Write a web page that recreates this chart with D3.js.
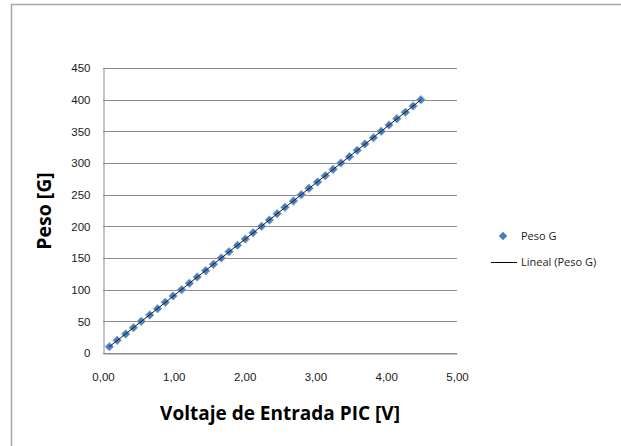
<!DOCTYPE html>
<html>
<head>
<meta charset="utf-8">
<script src="https://cdn.jsdelivr.net/npm/d3@7"></script>
<style>
  body { margin: 0; background: #fff; }
  svg { display: block; font-family: "Open Sans", "Liberation Sans", sans-serif; }
</style>
</head>
<body>
<svg id="chart" width="621" height="446"></svg>
<script>
// voltage (V) and weight (G)
var voltaje = [0.09, 0.20, 0.32, 0.43, 0.54, 0.66, 0.77, 0.88, 0.99, 1.11,
               1.22, 1.33, 1.45, 1.56, 1.67, 1.78, 1.90, 2.01, 2.12, 2.24,
               2.35, 2.46, 2.57, 2.69, 2.80, 2.91, 3.03, 3.14, 3.25, 3.36,
               3.48, 3.59, 3.70, 3.82, 3.93, 4.04, 4.15, 4.27, 4.38, 4.49];
var peso    = [10, 20, 30, 40, 50, 60, 70, 80, 90, 100,
               110, 120, 130, 140, 150, 160, 170, 180, 190, 200,
               210, 220, 230, 240, 250, 260, 270, 280, 290, 300,
               310, 320, 330, 340, 350, 360, 370, 380, 390, 400];
var xTicks = [0, 1, 2, 3, 4, 5];
var yTicks = [0, 50, 100, 150, 200, 250, 300, 350, 400, 450];
var legendLabels = ["Peso G", "Lineal (Peso G)"];

var svg = d3.select("#chart");

// chart frame
svg.append("rect")
  .attr("x", 11.5).attr("y", 4.5)
  .attr("width", 640).attr("height", 460)
  .style("fill", "none").style("stroke", "#a6a6a6").style("stroke-width", 1.5);

var pLeft = 103, pRight = 457, pTop = 68, pBottom = 353;
var x = d3.scaleLinear().domain([0, 5]).range([pLeft, pRight]);
var y = d3.scaleLinear().domain([0, 450]).range([pBottom, pTop]);

// horizontal gridlines
svg.append("g").selectAll("line").data(yTicks).enter().append("line")
  .attr("x1", pLeft).attr("x2", pRight)
  .attr("y1", d => Math.round(y(d)) + 0.5).attr("y2", d => Math.round(y(d)) + 0.5)
  .style("stroke", "#8c8c8c").style("stroke-width", 1);

// y axis
var yAxis = svg.append("g")
  .attr("transform", "translate(" + (pLeft + 0.5) + ",0)")
  .call(d3.axisLeft(y).tickValues(yTicks).tickSize(0).tickPadding(13));
yAxis.select(".domain").style("stroke", "#8c8c8c");
yAxis.selectAll("text").style("font-size", "11.5px").style("fill", "#1a1a1a");

// x axis
var xAxis = svg.append("g")
  .attr("transform", "translate(0," + (pBottom + 0.5) + ")")
  .call(d3.axisBottom(x).tickValues(xTicks).tickSize(0).tickPadding(19)
    .tickFormat(d => d3.format(".2f")(d).replace(".", ",")));
xAxis.select(".domain").style("stroke", "#8c8c8c");
xAxis.selectAll("text").style("font-size", "11.5px").style("fill", "#1a1a1a");

// markers
var pts = voltaje.map((v, i) => [v, peso[i]]);
svg.append("g").selectAll("path").data(pts).enter().append("path")
  .attr("d", d3.symbol().type(d3.symbolDiamond2).size(46))
  .attr("transform", d => "translate(" + x(d[0]) + "," + y(d[1]) + ")")
  .style("fill", "#4a7ebb").style("stroke", "#7fa6d6").style("stroke-width", 0.8);

// linear trend line (least squares)
var mx = d3.mean(voltaje), my = d3.mean(peso);
var sxy = d3.sum(pts, d => (d[0] - mx) * (d[1] - my));
var sxx = d3.sum(voltaje, v => (v - mx) * (v - mx));
var b = sxy / sxx, a = my - b * mx;
var ext = d3.extent(voltaje);
svg.append("line")
  .attr("x1", x(ext[0])).attr("y1", y(a + b * ext[0]))
  .attr("x2", x(ext[1])).attr("y2", y(a + b * ext[1]))
  .style("stroke", "#1a1a1a").style("stroke-width", 1);

// axis titles
svg.append("text")
  .attr("x", (pLeft + pRight) / 2).attr("y", 420)
  .attr("text-anchor", "middle")
  .style("font-size", "19px").style("font-weight", "bold")
  .text("Voltaje de Entrada PIC [V]");

svg.append("text")
  .attr("transform", "translate(51,211) rotate(-90)")
  .attr("text-anchor", "middle")
  .style("font-size", "19.5px").style("font-weight", "bold")
  .text("Peso [G]");

// legend
var lg = svg.append("g");
lg.append("path")
  .attr("d", d3.symbol().type(d3.symbolDiamond2).size(46))
  .attr("transform", "translate(503,236)")
  .style("fill", "#4a7ebb");
lg.append("line")
  .attr("x1", 491).attr("x2", 517).attr("y1", 262.5).attr("y2", 262.5)
  .style("stroke", "#000").style("stroke-width", 1);
lg.selectAll("text").data(legendLabels).enter().append("text")
  .attr("x", 521).attr("y", (d, i) => 240 + i * 26)
  .style("font-size", "11px").style("fill", "#1a1a1a")
  .text(d => d);
</script>
</body>
</html>
